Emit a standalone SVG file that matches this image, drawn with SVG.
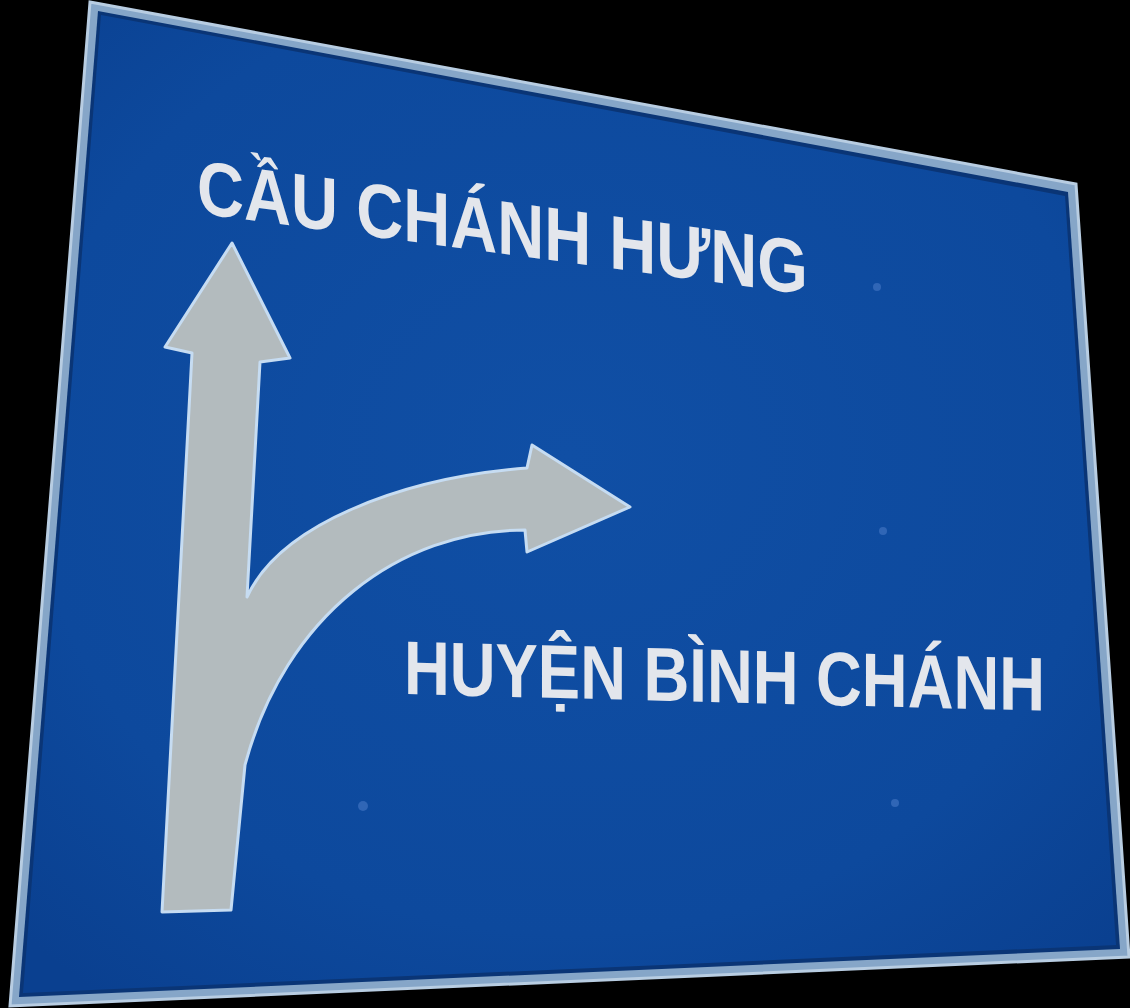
<svg xmlns="http://www.w3.org/2000/svg" width="1130" height="1008" viewBox="0 0 1130 1008">
  <defs>
    <radialGradient id="blue" cx="0.5" cy="0.45" r="0.7">
      <stop offset="0" stop-color="#104fa5"/>
      <stop offset="0.7" stop-color="#0d499d"/>
      <stop offset="1" stop-color="#0a4090"/>
    </radialGradient>
    <style>
      .txt { font-family: "Liberation Sans", Arial, sans-serif; font-weight: bold; font-size: 76px; fill: #e3e6ec; }
      .rivet { fill: #3066b6; }
    </style>
  </defs>
  <rect width="1130" height="1008" fill="#000"/>
  <g id="sign">
    <polygon points="90,2 1076,184 1129,957 10,1006" fill="#86a6c8" stroke="#b8cde2" stroke-width="3"/>
    <polygon points="98,11 1068,192 1120,949 19,997" fill="#0a3576"/>
    <polygon points="101,15 1065,196 1116,945 23,993" fill="url(#blue)"/>
  </g>
  <g id="arrow">
    <path d="M232,243 L290,358 L260,362 L247,597 C280,525 400,478 527,468 L532,445 L630,507 L527,552 L525,530 C400,530 285,615 245,765 L231,910 L162,912 L192,353 L165,347 Z" fill="#b3bbbe" stroke="#c6dcf2" stroke-width="3" stroke-linejoin="round"/>
  </g>
  <g id="rivets">
    <circle class="rivet" cx="877" cy="287" r="4"/>
    <circle class="rivet" cx="883" cy="531" r="4"/>
    <circle class="rivet" cx="363" cy="806" r="5"/>
    <circle class="rivet" cx="895" cy="803" r="4"/>
  </g>
  <g id="label-top">
    <text class="txt" transform="translate(197,213) skewY(7.6)" textLength="611" lengthAdjust="spacingAndGlyphs">CẦU CHÁNH HƯNG</text>
  </g>
  <g id="label-bottom">
    <text class="txt" transform="translate(404,694) skewY(1.5)" textLength="641" lengthAdjust="spacingAndGlyphs">HUYỆN BÌNH CHÁNH</text>
  </g>
</svg>
